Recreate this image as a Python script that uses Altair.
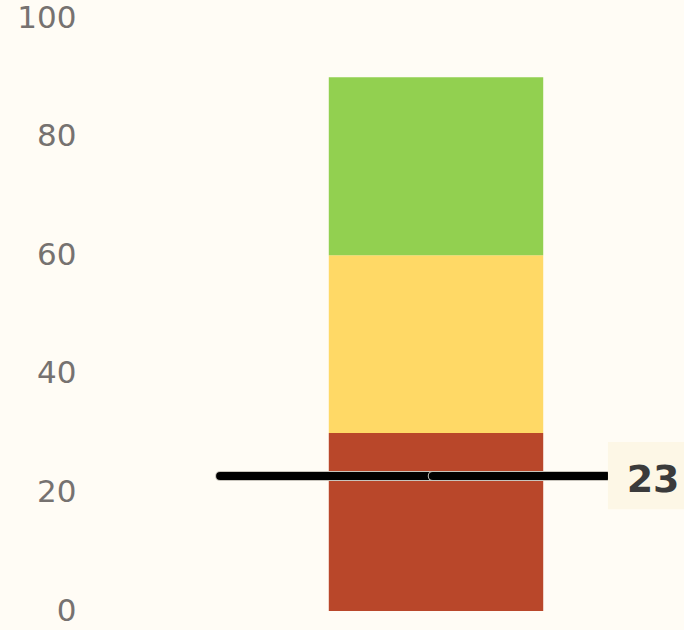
import altair as alt
import pandas as pd

# data
band_names = ["low", "mid", "high"]
band_start = [0, 30, 60]
band_end = [30, 60, 90]
band_colors = ["#b9472a", "#ffd966", "#92d050"]
marker_value = 23
y_ticks = [0, 20, 40, 60, 80, 100]

# layout (fractions of plot width)
BAR_X0, BAR_X1 = 0.402, 0.763
LINE_X0, LINE_MID, LINE_X1 = 0.219, 0.577, 0.870
BOX_X0, BOX_X1 = 0.872, 1.0
TXT_X = 0.948

bands = pd.DataFrame({"name": band_names, "start": band_start, "end": band_end,
                      "x0": BAR_X0, "x1": BAR_X1})
seg = pd.DataFrame({"seg": ["a", "b"], "x0": [LINE_X0, LINE_MID], "x1": [LINE_MID, LINE_X1],
                    "v": [marker_value, marker_value]})
lab = pd.DataFrame({"v": [marker_value], "lo": [marker_value - 5.5], "hi": [marker_value + 5.5],
                    "x0": [BOX_X0], "x1": [BOX_X1], "xt": [TXT_X], "t": [str(marker_value)]})

xs = alt.Scale(domain=[0, 1])
ys = alt.Scale(domain=[0, 100])

bars = alt.Chart(bands).mark_rect().encode(
    x=alt.X("x0:Q", scale=xs, axis=None),
    x2="x1:Q",
    y=alt.Y("start:Q", scale=ys, title=None,
            axis=alt.Axis(values=y_ticks, grid=False, domain=False, ticks=False,
                          labelPadding=14, labelFontSize=31, labelColor="#767270",
                          labelFont="DejaVu Sans", labelFontWeight="normal", labelFlush=False)),
    y2="end:Q",
    color=alt.Color("name:N", scale=alt.Scale(domain=band_names, range=band_colors), legend=None),
)

layers = [bars]
for s in ["a", "b"]:
    d = seg[seg.seg == s]
    layers.append(alt.Chart(d).mark_rule(strokeWidth=10, strokeCap="round", color="#c8c4bc").encode(
        x=alt.X("x0:Q", scale=xs), x2="x1:Q", y=alt.Y("v:Q", scale=ys), yOffset=alt.value(1.5)))
    layers.append(alt.Chart(d).mark_rule(strokeWidth=8, strokeCap="round", color="#000000").encode(
        x=alt.X("x0:Q", scale=xs), x2="x1:Q", y=alt.Y("v:Q", scale=ys), yOffset=alt.value(1.5)))

box = alt.Chart(lab).mark_rect(color="#fdf7e6").encode(
    x=alt.X("x0:Q", scale=xs), x2="x1:Q", y=alt.Y("lo:Q", scale=ys), y2="hi:Q",
    yOffset=alt.value(2))
txt = alt.Chart(lab).mark_text(fontSize=38, fontWeight="bold", font="DejaVu Sans", color="#3b3b3b",
                               align="center", baseline="middle", dy=6).encode(
    x=alt.X("xt:Q", scale=xs), y=alt.Y("v:Q", scale=ys), text="t:N")
layers += [box, txt]

chart = alt.layer(*layers).properties(
    width=594, height=593,
    autosize=alt.AutoSizeParams(type="none"),
    padding={"left": 90, "top": 18, "right": 0, "bottom": 19},
    background="#fffcf5",
).configure_view(stroke=None)

chart.save("out.html", embed_options={"renderer": "svg", "actions": False})
